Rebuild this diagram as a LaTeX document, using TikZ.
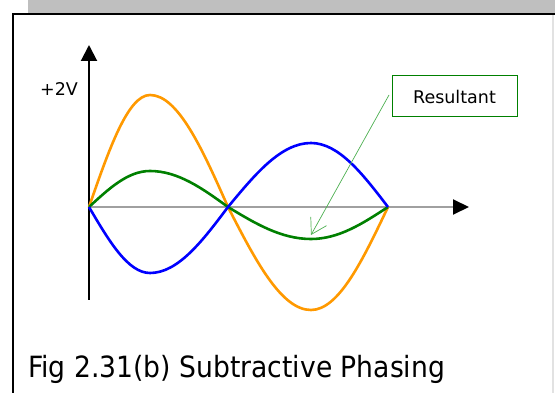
\documentclass[tikz,border=0pt]{standalone}
\usepackage{fontspec}
\setmainfont{DejaVu Sans}
\usetikzlibrary{arrows.meta}
\definecolor{bandgray}{HTML}{BFBFBF}
\definecolor{edgegray}{HTML}{E2E2E2}
\definecolor{axisgray}{HTML}{A0A0A0}
\definecolor{worange}{HTML}{FF9900}
\definecolor{wgreen}{HTML}{008000}
\definecolor{wblue}{HTML}{0000FF}
\definecolor{lgreen}{HTML}{4CAF50}
\begin{document}
\begin{tikzpicture}[x=1pt,y=-1pt,
  wave/.style={line width=2.6pt,line join=round},
  lbl/.style={inner sep=0pt,font=\fontsize{17.5}{20}\selectfont},
  callout/.style={draw=wgreen,line width=1pt,minimum width=125pt,minimum height=41pt,inner sep=0pt,font=\fontsize{17.5}{20}\selectfont}]
\useasboundingbox (0,0) rectangle (555,393);
% frame
\fill[bandgray] (28,0) rectangle (555,13);
\draw[edgegray,line width=1.5pt] (553,15) -- (553,393);
\draw[line width=2pt] (12,14) -- (555,14);
\draw[line width=2pt] (13,14) -- (13,393);
% axes
\coordinate (O) at (89,207);
\coordinate (ybot) at (89,300);
\coordinate (ytop) at (89,45);
\coordinate (xend) at (469,207);
\draw[axisgray,line width=2pt,-{Triangle[length=16pt,width=15pt,color=black]}] (O) -- (xend);
\draw[line width=2pt,-{Triangle[length=16pt,width=16pt]}] (ybot) -- (ytop);
% waves
\draw[wave,worange] (O) .. controls (108.9,149.7) and (127.9,95) .. (150,95)
  .. controls (178.2,95) and (202.6,149.7) .. (228,207)
  .. controls (255.1,259.7) and (281,310) .. (311,310)
  .. controls (338.9,310) and (362.9,259.7) .. (388,207);
\draw[wave,wgreen] (O) .. controls (108.9,188.6) and (127.9,171) .. (150,171)
  .. controls (178.2,171) and (202.6,188.6) .. (228,207)
  .. controls (255.1,223.4) and (281,239) .. (311,239)
  .. controls (338.9,239) and (362.9,223.4) .. (388,207);
\draw[wave,wblue] (O) .. controls (108.9,240.8) and (127.9,273) .. (150,273)
  .. controls (178.2,273) and (202.6,240.8) .. (228,207)
  .. controls (255.1,174.2) and (281,143) .. (311,143)
  .. controls (338.9,143) and (362.9,174.2) .. (388,207);
% labels
\node[lbl] (v2) at (59,89) {+2V};
\node[callout] (res) at (454.5,96.5) {Resultant};
\coordinate (restip) at (311,235);
\draw[lgreen,line width=0.7pt,-{Straight Barb[length=15pt,width=18pt,line width=0.7pt]}] (389,95) -- (restip);
\node[anchor=base west,inner sep=0pt,font=\fontsize{26.6}{30}\selectfont] (cap) at (28,377) {\scalebox{1}[1.1]{Fig 2.31(b) Subtractive Phasing}};
\end{tikzpicture}
\end{document}
